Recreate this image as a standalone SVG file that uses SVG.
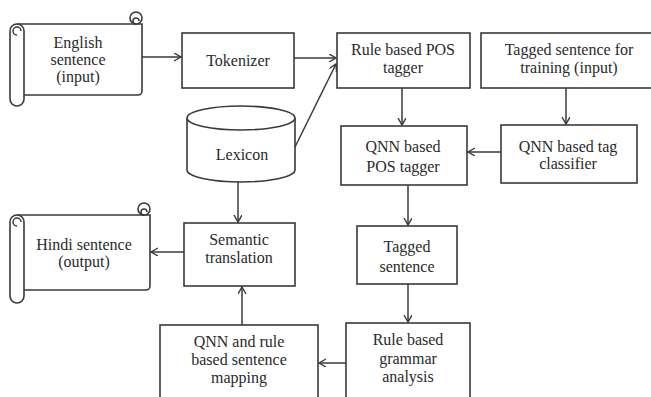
<svg xmlns="http://www.w3.org/2000/svg" width="651" height="397" viewBox="0 0 651 397">
<style>
.box{fill:#fff;stroke:#3a3a3a;stroke-width:1.6}
.ln{fill:none;stroke:#3a3a3a;stroke-width:1.5}
.t{font-family:"Liberation Serif","Times New Roman",serif;font-size:16px;fill:#2a2a2a;text-anchor:middle}
</style>
<defs>
<marker id="ah" markerWidth="10" markerHeight="10" refX="7" refY="4" orient="auto" markerUnits="userSpaceOnUse">
<path d="M0,0 L7,4 L0,8" fill="none" stroke="#3a3a3a" stroke-width="1.4"/>
</marker>
</defs>
<rect width="651" height="397" fill="#fff"/>

<g id="english">
<path class="box" d="M17,24 L136,24 L142,24 L142,91 A4,4 0 0 1 138,95 L24,95"/>
<circle class="box" cx="136" cy="18" r="6"/>
<path class="ln" d="M136,24 A3,3 0 1 1 139,21" stroke-width="1.2"/>
<path class="box" d="M10,31 A7,7 0 0 1 24,31 L24,99 A7,7 0 0 1 10,99 Z"/>
<path class="ln" d="M17,35 A4,4 0 1 1 21,31" stroke-width="1.2"/>
<text class="t" x="78" y="48">English</text>
<text class="t" x="78" y="65">sentence</text>
<text class="t" x="78" y="82">(input)</text>
</g>

<g id="tokenizer">
<rect class="box" x="182" y="33" width="112" height="55"/>
<text class="t" x="238" y="66">Tokenizer</text>
</g>

<g id="rulepos">
<rect class="box" x="337" y="33" width="133" height="55"/>
<text class="t" x="403" y="55">Rule based POS</text>
<text class="t" x="403" y="73">tagger</text>
</g>

<g id="training">
<rect class="box" x="481" y="33" width="172" height="55"/>
<text class="t" x="569" y="55">Tagged sentence for</text>
<text class="t" x="569" y="73">training (input)</text>
</g>

<g id="lexicon">
<path class="box" d="M187,118 L187,170 A54,12 0 0 0 295,170 L295,118"/>
<ellipse class="box" cx="241" cy="118" rx="54" ry="12"/>
<text class="t" x="242" y="160">Lexicon</text>
</g>

<g id="qnnpos">
<rect class="box" x="341" y="126" width="126" height="59"/>
<text class="t" x="403" y="152">QNN based</text>
<text class="t" x="403" y="172">POS tagger</text>
</g>

<g id="classifier">
<rect class="box" x="501" y="125" width="136" height="58"/>
<text class="t" x="568" y="152">QNN based tag</text>
<text class="t" x="568" y="169">classifier</text>
</g>

<g id="semantic">
<rect class="box" x="184" y="223" width="111" height="63"/>
<text class="t" x="239" y="245">Semantic</text>
<text class="t" x="239" y="263">translation</text>
</g>

<g id="hindi">
<path class="box" d="M17,215 L144,215 L150,215 L150,286 A4,4 0 0 1 146,290 L24,290"/>
<circle class="box" cx="144" cy="209" r="6"/>
<path class="ln" d="M144,215 A3,3 0 1 1 147,212" stroke-width="1.2"/>
<path class="box" d="M10,222 A7,7 0 0 1 24,222 L24,296 A7,7 0 0 1 10,296 Z"/>
<path class="ln" d="M17,226 A4,4 0 1 1 21,222" stroke-width="1.2"/>
<text class="t" x="84" y="250">Hindi sentence</text>
<text class="t" x="84" y="267">(output)</text>
</g>

<g id="tagged">
<rect class="box" x="357" y="226" width="100" height="58"/>
<text class="t" x="407" y="252">Tagged</text>
<text class="t" x="407" y="272">sentence</text>
</g>

<g id="grammar">
<rect class="box" x="346" y="323" width="124" height="80"/>
<text class="t" x="408" y="345">Rule based</text>
<text class="t" x="408" y="364">grammar</text>
<text class="t" x="408" y="382">analysis</text>
</g>

<g id="mapping">
<rect class="box" x="160" y="325" width="158" height="80"/>
<text class="t" x="239" y="347">QNN and rule</text>
<text class="t" x="239" y="365">based sentence</text>
<text class="t" x="239" y="383">mapping</text>
</g>

<g id="connectors">
<line class="ln" x1="142" y1="57" x2="181" y2="57" marker-end="url(#ah)"/>
<line class="ln" x1="294" y1="58" x2="336" y2="58" marker-end="url(#ah)"/>
<line class="ln" x1="295" y1="147" x2="336" y2="64" marker-end="url(#ah)"/>
<line class="ln" x1="402" y1="88" x2="402" y2="125" marker-end="url(#ah)"/>
<line class="ln" x1="566" y1="88" x2="566" y2="124" marker-end="url(#ah)"/>
<line class="ln" x1="501" y1="152" x2="468" y2="152" marker-end="url(#ah)"/>
<line class="ln" x1="408" y1="185" x2="408" y2="225" marker-end="url(#ah)"/>
<line class="ln" x1="408" y1="284" x2="408" y2="322" marker-end="url(#ah)"/>
<line class="ln" x1="346" y1="363" x2="319" y2="363" marker-end="url(#ah)"/>
<line class="ln" x1="242" y1="325" x2="242" y2="287" marker-end="url(#ah)"/>
<line class="ln" x1="238" y1="182" x2="238" y2="222" marker-end="url(#ah)"/>
<line class="ln" x1="184" y1="252" x2="151" y2="252" marker-end="url(#ah)"/>
</g>
</svg>
